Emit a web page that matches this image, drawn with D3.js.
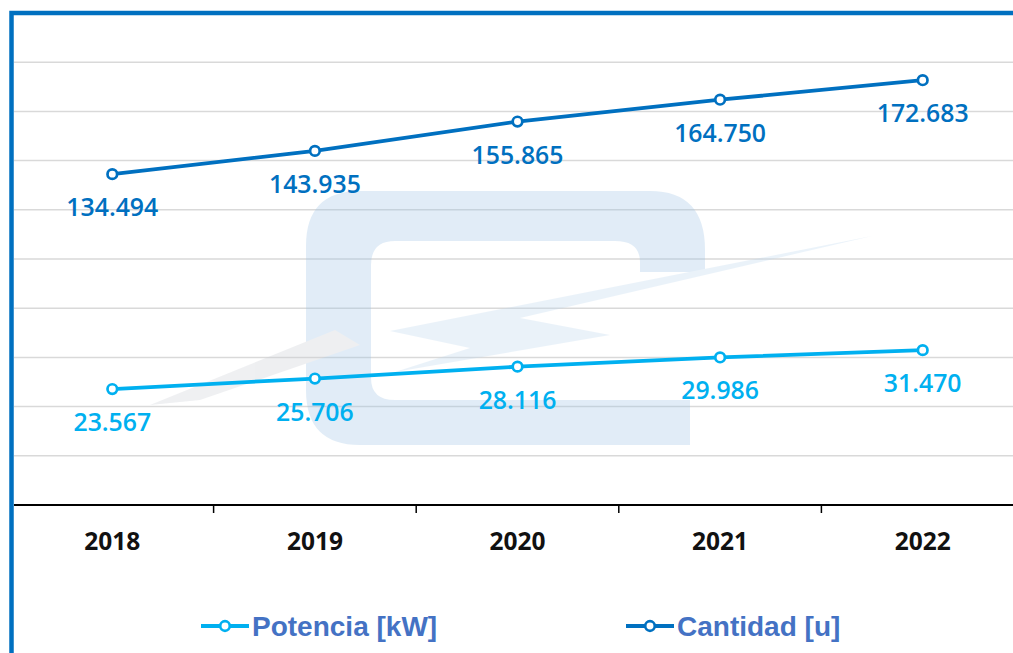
<!DOCTYPE html>
<html>
<head>
<meta charset="utf-8">
<script src="https://cdn.jsdelivr.net/npm/d3@7"></script>
<style>
  body { margin: 0; background: #fff; }
  svg { display: block; }
</style>
</head>
<body>
<div id="chart"></div>
<script>
// data
const years = ["2018", "2019", "2020", "2021", "2022"];
const potencia = [23.567, 25.706, 28.116, 29.986, 31.470];
const cantidad = [134.494, 143.935, 155.865, 164.750, 172.683];
const seriesNames = ["Potencia [kW]", "Cantidad [u]"];

const W = 1013, H = 653;
const colPot = "#00B0F0", colCant = "#0070C0", colLegend = "#4472C4";

const svg = d3.select("#chart").append("svg")
    .attr("width", W)
    .attr("height", H);

// scales
const x = d3.scaleBand().domain(years).range([11, 1024]);
const yCant = d3.scaleLinear().domain([0, 200]).range([505, 13]);
const yPot = d3.scaleLinear().domain([0, 100]).range([505, 13]);

// gridlines
svg.append("g")
    .selectAll("line")
    .data(d3.range(20, 201, 20))
    .join("line")
    .attr("x1", 14).attr("x2", W)
    .attr("y1", d => yCant(d)).attr("y2", d => yCant(d))
    .attr("stroke", "#d9d9d9")
    .attr("stroke-width", 1.5);

// watermark logo (faint)
const wm = svg.append("g").attr("opacity", 0.3);
wm.append("path")
    .attr("fill", "#9dc3e6")
    .attr("fill-rule", "evenodd")
    .attr("d", "M360,191 L650,191 Q705,191 705,250 L705,272 L640,272 L640,262 Q640,241 615,241 L395,241 Q371,241 371,265 L371,378 Q371,400 395,400 L690,400 L690,445 L360,445 Q306,445 306,390 L306,246 Q306,191 360,191 Z");
wm.append("path")
    .attr("fill", "#bdd7ee")
    .attr("d", "M390,331 L872,236 L520,318 L610,335 L395,372 L470,348 Z");
wm.append("path")
    .attr("fill", "#c9ccd3")
    .attr("d", "M150,405 L335,330 L360,345 L200,400 Z");

// x axis
svg.append("line")
    .attr("x1", 14).attr("x2", W)
    .attr("y1", 505).attr("y2", 505)
    .attr("stroke", "#000").attr("stroke-width", 2);

svg.append("g")
    .selectAll("line")
    .data(years.slice(1))
    .join("line")
    .attr("x1", d => x(d)).attr("x2", d => x(d))
    .attr("y1", 505).attr("y2", 513)
    .attr("stroke", "#000").attr("stroke-width", 1.5);

svg.append("g")
    .selectAll("text")
    .data(years)
    .join("text")
    .attr("x", d => x(d) + x.bandwidth() / 2)
    .attr("y", 550)
    .attr("text-anchor", "middle")
    .attr("font-family", "'Open Sans', sans-serif")
    .attr("font-weight", 700)
    .attr("font-size", 24.5)
    .attr("fill", "#111")
    .text(d => d);

// series
const fmt = v => d3.format(".3f")(v);
function drawSeries(values, yScale, color) {
    const pts = values.map((v, i) => [x(years[i]) + x.bandwidth() / 2, yScale(v), v]);
    const g = svg.append("g");
    g.append("path")
        .datum(pts)
        .attr("fill", "none")
        .attr("stroke", color)
        .attr("stroke-width", 3.8)
        .attr("d", d3.line().x(d => d[0]).y(d => d[1]));
    g.selectAll("circle")
        .data(pts)
        .join("circle")
        .attr("cx", d => d[0]).attr("cy", d => d[1])
        .attr("r", 4.8)
        .attr("fill", "#fff")
        .attr("stroke", color)
        .attr("stroke-width", 2.7);
    g.selectAll("text")
        .data(pts)
        .join("text")
        .attr("x", d => d[0])
        .attr("y", d => d[1] + 42)
        .attr("text-anchor", "middle")
        .attr("font-family", "'Open Sans', sans-serif")
        .attr("font-weight", 600)
        .attr("font-size", 24.8)
        .attr("fill", color)
        .text(d => fmt(d[2]));
}
drawSeries(cantidad, yCant, colCant);
drawSeries(potencia, yPot, colPot);

// frame (left and top blue border)
svg.append("path")
    .attr("d", "M11.5," + H + " L11.5,13 L" + W + ",13")
    .attr("fill", "none")
    .attr("stroke", colCant)
    .attr("stroke-width", 4.5);

// legend
const legend = svg.append("g");
const legendItems = [
    {name: seriesNames[0], color: colPot, x0: 201},
    {name: seriesNames[1], color: colCant, x0: 626}
];
legendItems.forEach(it => {
    const g = legend.append("g").attr("transform", "translate(" + it.x0 + ",626)");
    g.append("line").attr("x1", 0).attr("x2", 48)
        .attr("stroke", it.color).attr("stroke-width", 3.8);
    g.append("circle").attr("cx", 24).attr("r", 4.8)
        .attr("fill", "#fff").attr("stroke", it.color).attr("stroke-width", 2.7);
    g.append("text")
        .attr("x", 51).attr("y", 10)
        .attr("font-family", "'Liberation Sans', Arial, sans-serif")
        .attr("font-weight", 700)
        .attr("font-size", 28)
        .attr("fill", colLegend)
        .text(it.name);
});
</script>
</body>
</html>
